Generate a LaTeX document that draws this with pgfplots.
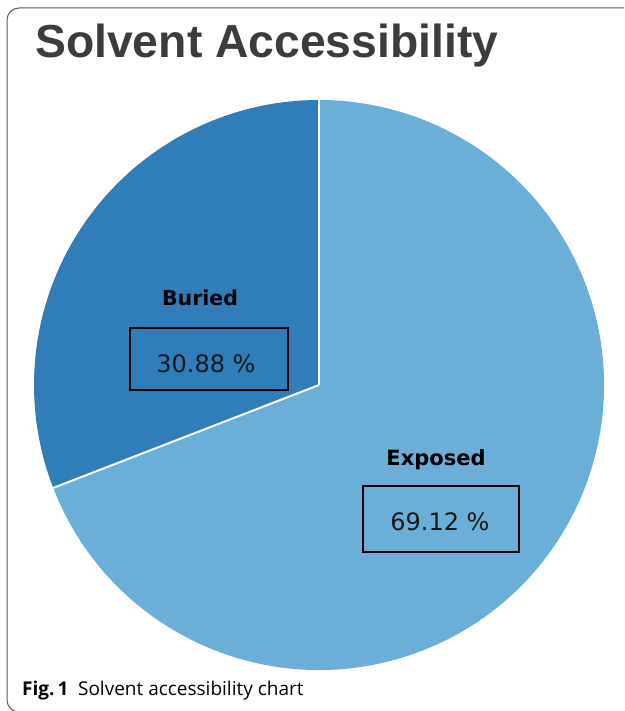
\documentclass[border=0pt]{standalone}
\usepackage{fontspec}
\usepackage{pgfplots}
\usepackage{pgfplotstable}
\pgfplotsset{compat=1.18}
\setmainfont{DejaVu Sans}
\newfontfamily\titlefont{Liberation Sans}
\newfontfamily\capfont{Open Sans}

\definecolor{buried}{HTML}{2F7DB9}
\definecolor{exposed}{HTML}{6BAED7}
\definecolor{titlegray}{HTML}{3C3C3C}
\definecolor{framegray}{HTML}{5A5A5A}

% share of residues, percent
\pgfplotstableread{
label   value
Buried  30.88
Exposed 69.12
}\solventdata

\begin{document}
\begin{tikzpicture}
\useasboundingbox (0,0) rectangle (624pt,711pt);
\pgfplotstablegetelem{0}{value}\of\solventdata
\pgfmathsetmacro{\angB}{90+3.6*\pgfplotsretval}
\pgfmathsetmacro{\angE}{450}
\def\cx{319}\def\cy{385}\def\rad{285pt}
\begin{axis}[
    at={(0,0)}, anchor=south west,
    width=624pt, height=711pt, scale only axis,
    xmin=0, xmax=624, ymin=0, ymax=711, y dir=reverse,
    hide axis, clip=false,
]
% frame
\begin{scope}
\clip (axis cs:0,0) rectangle (axis cs:624,711);
\draw[framegray, line width=1pt, rounded corners=12pt]
    (axis cs:7,8) rectangle (axis cs:640,712);
\end{scope}
% wedges
\fill[buried] (axis cs:\cx,\cy) -- ++(90:\rad)
    arc[start angle=90, end angle=\angB, radius=\rad] -- cycle;
\fill[exposed] (axis cs:\cx,\cy) -- ++(\angB:\rad)
    arc[start angle=\angB, end angle=\angE, radius=\rad] -- cycle;
\draw[white, line width=2pt] (axis cs:\cx,\cy) -- ++(90:\rad);
\draw[white, line width=2pt] (axis cs:\cx,\cy) -- ++(\angB:\rad);
% labels
\node[anchor=base, font=\bfseries\fontsize{20.5}{24}\selectfont] at (axis cs:200,305) {Buried};
\draw[black, line width=1.3pt] (axis cs:130,328) rectangle (axis cs:288,390);
\node[anchor=base, font=\fontsize{24}{28}\selectfont, text=black!90] at (axis cs:206,372) {30.88 \%};
\node[anchor=base, font=\bfseries\fontsize{21}{24}\selectfont] at (axis cs:436,465) {Exposed};
\draw[black, line width=1.3pt] (axis cs:363,486) rectangle (axis cs:519,552);
\node[anchor=base, font=\fontsize{24}{28}\selectfont, text=black!90] at (axis cs:440,530) {69.12 \%};
% title and caption
\node[anchor=base west, inner sep=0pt, text=titlegray,
      font=\titlefont\bfseries\fontsize{46.3}{50}\selectfont] at (axis cs:35,58) {Solvent Accessibility};
\node[anchor=base west, inner sep=0pt, font=\capfont\fontsize{19}{22}\selectfont]
    at (axis cs:22,695) {\textbf{Fig.\,1}\enspace Solvent accessibility chart};
\end{axis}
\end{tikzpicture}
\end{document}
